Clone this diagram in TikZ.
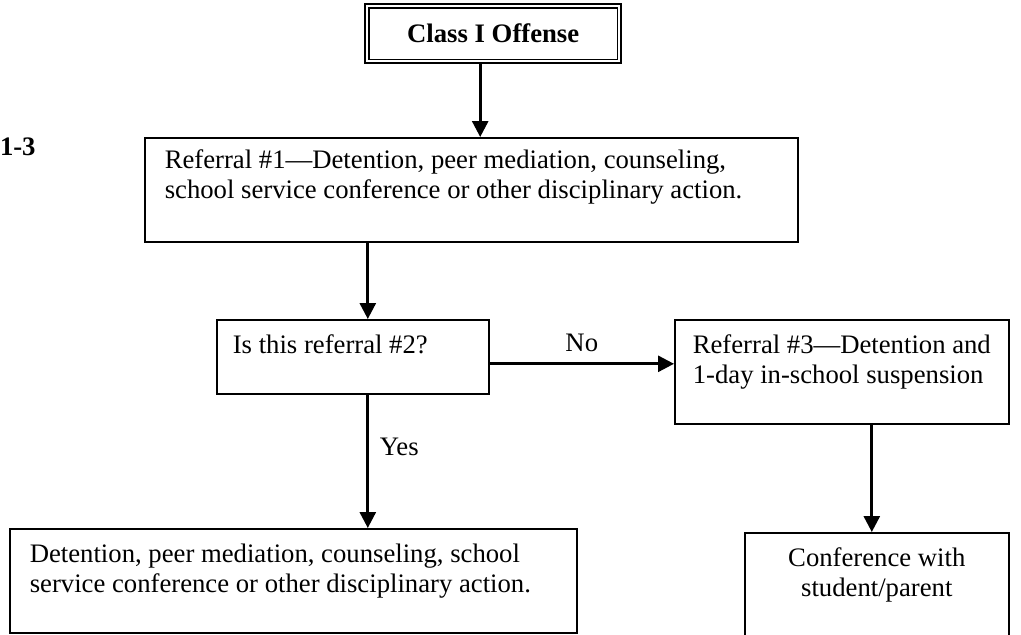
\documentclass[tikz,border=0pt]{standalone}
\usepackage{fontspec}
\setmainfont{Liberation Serif}
\usetikzlibrary{arrows.meta}
\begin{document}
\begin{tikzpicture}[x=0.5pt, y=-0.5pt,
    caja/.style={draw, line width=0.8pt, anchor=north west, align=flush left,
        inner xsep=10pt, inner ysep=8pt, text height=9pt,
        font=\fontsize{13.35}{15}\selectfont},
    flecha/.style={line width=1.4pt, -{Triangle[length=8pt, width=8pt]}},
    etiqueta/.style={font=\fontsize{13.35}{15}\selectfont}]
    % Marco de la figura
    \useasboundingbox (0,0) rectangle (1021,634);
    \clip (0,0) rectangle (1021,634);

    \node[font=\fontsize{13.35}{15}\selectfont\bfseries, anchor=base east, inner sep=0pt] (numero) at (36,155) {1-3};

    % Caja principal con doble borde
    \node[draw, line width=1.2pt, minimum width=128pt, minimum height=29.5pt, anchor=north west,
        font=\fontsize{13.35}{15}\selectfont\bfseries] (ofensa) at (364,3) {Class I Offense};
    \draw[line width=0.6pt] ([shift={(2.5pt,-2.5pt)}]ofensa.north west) rectangle ([shift={(-2.5pt,2.5pt)}]ofensa.south east);

    % Cajas del diagrama
    \node[caja, text width=306.5pt, inner ysep=6.5pt, text depth=30pt] (ref1) at (144,137)
        {Referral \#1—Detention, peer mediation, counseling,\\ school service conference or other disciplinary action.};
    \node[caja, text width=120pt, inner xsep=8pt, text depth=12pt] (pregunta) at (216,319)
        {Is this referral \#2?};
    \node[caja, text width=149pt, inner xsep=9pt, text depth=27pt] (ref3) at (674,319)
        {Referral \#3—Detention and\\ 1-day in-school suspension};
    \node[caja, text width=263.5pt, text depth=27pt] (detencion) at (9,528)
        {Detention, peer mediation, counseling, school\\ service conference or other disciplinary action.};
    \node[caja, text width=112pt, align=flush center, text depth=28.5pt] (conferencia) at (744,532)
        {Conference with\\ student/parent};

    % Flechas
    \draw[flecha] ([xshift=-6.5pt]ofensa.south) -- ([xshift=-6.5pt]ofensa.south |- ref1.north);
    \draw[flecha] ([xshift=7.5pt]pregunta.north |- ref1.south) -- ([xshift=7.5pt]pregunta.north);
    \draw[flecha] ([xshift=7.5pt]pregunta.south) -- ([xshift=7.5pt]pregunta.south |- detencion.north)
        node[etiqueta, pos=0.39, right, xshift=2pt] {Yes};
    \draw[flecha] ([yshift=-3.5pt]pregunta.east) -- ([yshift=-3.5pt]pregunta.east -| ref3.west)
        node[etiqueta, midway, above, yshift=2pt] {No};
    \draw[flecha] ([xshift=-2.5pt]conferencia.north |- ref3.south) -- ([xshift=-2.5pt]conferencia.north);
\end{tikzpicture}
\end{document}
